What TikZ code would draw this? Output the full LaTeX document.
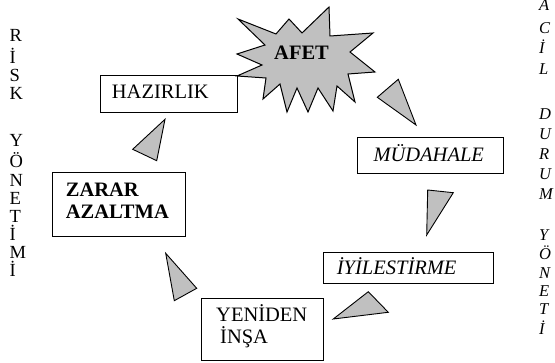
\documentclass[tikz,border=0pt]{standalone}
\usepackage{fontspec}
\setmainfont{Liberation Serif}
\definecolor{silverfill}{RGB}{192,192,192}
\begin{document}
\begin{tikzpicture}[x=1pt,y=-1pt,
  box/.style={draw=black,line width=1pt,fill=white,rectangle,inner sep=0pt},
  txt/.style={inner sep=0pt,anchor=base west,font=\fontsize{20.5}{21.6}\selectfont},
  sidetxt/.style={inner sep=0pt,anchor=base west,font=\fontsize{18.5}{19}\selectfont},
  rtxt/.style={inner sep=0pt,anchor=base west,font=\fontsize{16.5}{18}\selectfont\itshape},
  tri/.style={draw=black,line width=0.9pt,fill=silverfill,line join=miter}]
\useasboundingbox (0,0) rectangle (555,363);
\fill[white] (0,0) rectangle (555,363);

% boxes
\node[box,anchor=north west,minimum width=137pt,minimum height=37pt] (haz) at (100,75) {};
\node[box,anchor=north west,minimum width=133pt,minimum height=64pt] (zar) at (52,172) {};
\node[box,anchor=north west,minimum width=122pt,minimum height=62pt] (yen) at (201,298) {};
\node[box,anchor=north west,minimum width=170pt,minimum height=31pt] (iyi) at (323,252) {};
\node[box,anchor=north west,minimum width=146pt,minimum height=36pt] (mud) at (357,137) {};

% star
\draw[tri,line width=1pt] (238,19) -- (276,34) -- (289,19) -- (302,33) -- (329,7) -- (330,36)
  -- (373,33) -- (350,52) -- (375,72) -- (348,74) -- (355,102) -- (337,86) -- (333,111)
  -- (318,88) -- (308,112) -- (297,88) -- (287,112) -- (280,84) -- (263,99) -- (266,78)
  -- (237,76) -- (262,65) -- (237,54) -- (265,45) -- cycle;

% texts in boxes
\node[txt] (hazT) at (111.7,98.5) {HAZIRLIK};
\node[txt,font=\fontsize{20.5}{21.6}\selectfont\bfseries] (zarT1) at (65.7,196.7) {ZARAR};
\node[txt,font=\fontsize{20.5}{21.6}\selectfont\bfseries] (zarT2) at (65.7,218.3) {AZALTMA};
\node[txt] (yenT1) at (216,321.7) {YENİDEN};
\node[txt] (yenT2) at (220,343.3) {İNŞA};
\node[txt,font=\fontsize{20.5}{21.6}\selectfont\itshape] (iyiT) at (336.7,275) {İYİLESTİRME};
\node[txt,font=\fontsize{20.5}{21.6}\selectfont\itshape] (mudT) at (373.3,161.7) {MÜDAHALE};
\node[txt,font=\fontsize{20.5}{21.6}\selectfont\bfseries] (afetT) at (274,59.5) {AFET};

% triangles
\draw[tri] (165,119.3) -- (132.7,149.3) -- (156.7,160.7) -- cycle;
\draw[tri] (165.7,253.3) -- (196.7,288.3) -- (174.3,300.7) -- cycle;
\draw[tri] (333.3,319) -- (368.3,291.7) -- (388.3,312.3) -- cycle;
\draw[tri] (427.7,190) -- (453.3,192.7) -- (426.7,235) -- cycle;
\draw[tri] (398.3,79.3) -- (377.3,97.3) -- (416,125) -- cycle;

% left vertical text
\foreach \l/\yy [count=\i] in {R/41.7,İ/63.3,S/81.7,K/100,Y/146.7,Ö/167.5,N/186.7,E/204.5,T/222.5,İ/240.5,M/258.5,İ/276.7}
  \node[sidetxt] (left\i) at (9.5,\yy) {\l};

% right vertical text
\foreach \l/\yy [count=\i] in {A/10.5,C/33.3,İ/53.3,L/75,D/120,U/140,R/159.3,U/180,M/200,Y/240.7,Ö/260,N/278.3,E/296.7,T/315,İ/335}
  \node[rtxt] (right\i) at (539,\yy) {\l};
\end{tikzpicture}
\end{document}
